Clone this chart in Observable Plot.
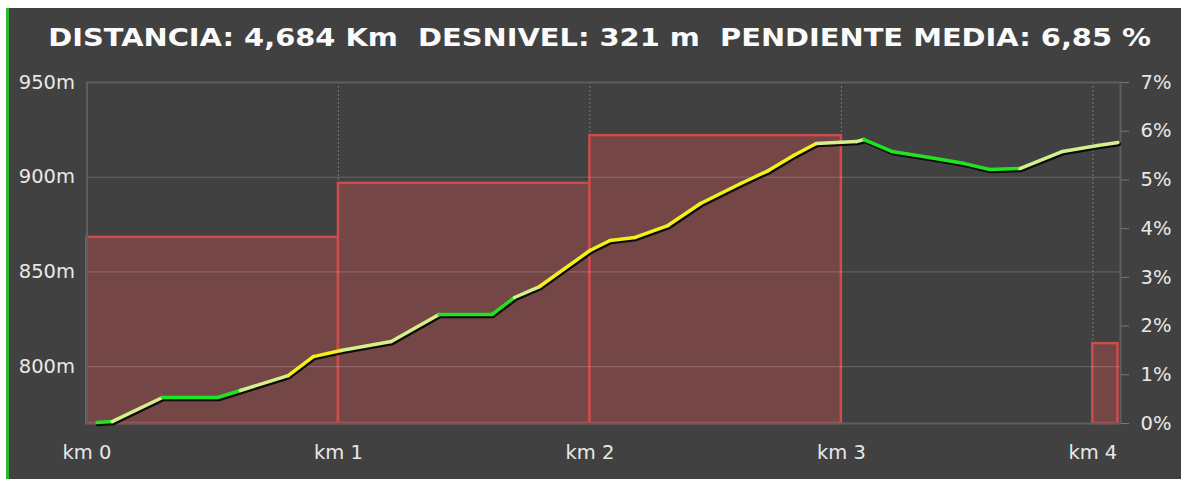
<!DOCTYPE html>
<html><head><meta charset="utf-8">
<script src="https://cdn.jsdelivr.net/npm/d3@7"></script>
<script src="https://cdn.jsdelivr.net/npm/@observablehq/plot@0.6"></script>
<style>
html,body{margin:0;padding:0;background:#fff;}
#panel{position:absolute;left:6px;top:8px;width:1172px;height:471px;border-left:3px solid #2db82d;background:#414141;overflow:hidden;}
#title{height:54px;text-align:center;font:bold 25px "DejaVu Sans",sans-serif;line-height:60px;color:#fafafa;white-space:nowrap;transform:scaleX(1.155);transform-origin:50% 50%;padding-left:8px;box-sizing:border-box;}
#chart svg{display:block;}
</style>
</head><body>
<div id="panel"><div id="title"></div><div id="chart"></div></div>
<script>
const titleText = "DISTANCIA: 4,684 Km\u00a0\u00a0DESNIVEL: 321 m\u00a0\u00a0PENDIENTE MEDIA: 6,85 %";

// Elevation profile (km, m)
const profileKm   = [0.04, 0.10, 0.30, 0.52, 0.61, 0.80, 0.90, 1.01, 1.21, 1.40, 1.61, 1.70, 1.80, 2.00, 2.08, 2.18, 2.31, 2.44, 2.60, 2.71, 2.81, 2.90, 3.06, 3.09, 3.20, 3.35, 3.49, 3.59, 3.71, 3.88, 4.02, 4.10];
const profileElev = [770.5, 771, 783.7, 783.7, 787.4, 795.3, 805.3, 808.5, 813.3, 827.5, 827.5, 836.5, 842.3, 861.3, 866.6, 868.2, 874.5, 886.1, 896.7, 903.5, 911.5, 917.8, 918.8, 919.9, 913.6, 910.4, 907.2, 904.1, 904.6, 913.6, 916.7, 918.3];
// grade class of each segment between consecutive profile points
const segmentClass = ["suave","media","suave","suave","media","fuerte","fuerte","media","media","suave","suave","media","fuerte","fuerte","fuerte","fuerte","fuerte","fuerte","fuerte","fuerte","fuerte","media","media","suave","suave","suave","suave","suave","media","media","media"];
const classNames  = ["suave","media","fuerte"];
const classColors = ["#1ee61e","#d4f08c","#f2f214"];

// Slope per kilometre (%)
const kmStart  = [0, 1, 2, 3, 4];
const kmEnd    = [1, 2, 3, 4, 4.1];
const kmSlope  = [3.82, 4.93, 5.91, 0, 1.64];

// Axes
const elevTicks = [800, 850, 900, 950];
const slopeTicks = [0, 1, 2, 3, 4, 5, 6, 7];
const kmTicks = [0, 1, 2, 3, 4];
const elevMin = 770, elevMax = 950, slopeMax = 7, kmMax = 4.11;

const toElev = p => elevMin + p * (elevMax - elevMin) / slopeMax;
const toSlope = e => (e - elevMin) * slopeMax / (elevMax - elevMin);

document.getElementById("title").textContent = titleText;

const profile = profileKm.map((k, i) => ({km: k, elev: profileElev[i]}));
const segments = segmentClass.map((c, i) => ({
  x1: profileKm[i], y1: profileElev[i], x2: profileKm[i + 1], y2: profileElev[i + 1], cls: c
}));
const bars = kmStart.map((s, i) => ({x1: s, x2: kmEnd[i], pct: kmSlope[i]})).filter(d => d.pct > 0);

const chart = Plot.plot({
  width: 1172,
  height: 417,
  marginTop: 20,
  marginBottom: 56,
  marginLeft: 77.5,
  marginRight: 61,
  style: {background: "transparent", color: "#e8e8e8", fontFamily: "'DejaVu Sans', sans-serif", fontSize: "19.5px"},
  x: {domain: [0, kmMax], label: null},
  y: {domain: [elevMin, elevMax], label: null},
  color: {domain: classNames, range: classColors},
  marks: [
    Plot.gridX(kmTicks.slice(1), {stroke: "#ffffff", strokeOpacity: 0.28, strokeDasharray: "2,2"}),
    Plot.rect(bars, {x1: "x1", x2: "x2", y1: elevMin, y2: d => toElev(d.pct), fill: "#754646", stroke: "#cc4c4c", strokeWidth: 2.5}),
    Plot.gridY(elevTicks.slice(0, 3), {stroke: "#ffffff", strokeOpacity: 0.2}),
    Plot.frame({stroke: "#5e5e5e", strokeWidth: 2}),
    Plot.line(profile, {x: "km", y: "elev", stroke: "#000", strokeWidth: 4.5, strokeOpacity: 0.85, dx: 1, dy: 1.5, strokeLinejoin: "round"}),
    Plot.link(segments, {x1: "x1", y1: "y1", x2: "x2", y2: "y2", stroke: "cls", strokeWidth: 3.5, strokeLinecap: "round"}),
    Plot.axisY({anchor: "left", ticks: elevTicks, tickFormat: d => d + "m", tickSize: 0, tickPadding: 12, label: null}),
    Plot.axisY({anchor: "right", ticks: slopeTicks.map(toElev), tickFormat: d => Math.round(toSlope(d)) + "%", tickSize: 8, tickPadding: 12, stroke: "#777", label: null}),
    Plot.axisX({ticks: kmTicks, tickFormat: d => "km " + d, tickSize: 0, tickPadding: 22, label: null})
  ]
});
document.getElementById("chart").appendChild(chart);
</script>
</body></html>
